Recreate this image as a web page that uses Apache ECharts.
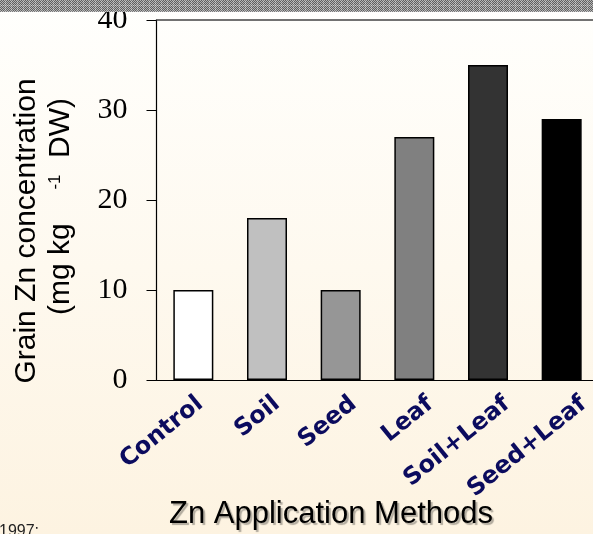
<!DOCTYPE html>
<html>
<head>
<meta charset="utf-8">
<script src="https://cdn.jsdelivr.net/npm/echarts@6/dist/echarts.min.js"></script>
<style>
  html, body { margin: 0; padding: 0; }
  #chart { width: 593px; height: 534px; }
</style>
</head>
<body>
<div id="chart"></div>
<script>
// Grain Zn concentration by application method
const methods = ['Control', 'Soil', 'Seed', 'Leaf', 'Soil+Leaf', 'Seed+Leaf'];
const znConcentration = [10, 18, 10, 27, 35, 29];
const barColors = ['#ffffff', '#c0c0c0', '#969696', '#808080', '#333333', '#000000'];
const yTicks = { min: 0, max: 40, step: 10 };

// small checkered tile for the banner strip
function makeTile() {
  const c = document.createElement('canvas');
  c.width = 6; c.height = 6;
  const g = c.getContext('2d');
  for (let i = 0; i < 6; i++) {
    for (let j = 0; j < 6; j++) {
      let col = (i + j) % 2 ? '#5e5e5e' : '#b4b4b4';
      if (i === 5 || j === 5) col = (i + j) % 2 ? '#7a7a7a' : '#cccccc';
      g.fillStyle = col;
      g.fillRect(i, j, 1, 1);
    }
  }
  return c;
}

const chart = echarts.init(document.getElementById('chart'));
const plotLeft = 156.5, plotTop = 20, plotBottom = 154, plotWidth = 442;

chart.setOption({
  backgroundColor: {
    type: 'linear', x: 0, y: 0, x2: 0, y2: 1,
    colorStops: [
      { offset: 0, color: '#fffffd' },
      { offset: 1, color: '#fdf3e1' }
    ]
  },
  animation: false,
  grid: [
    { left: plotLeft, top: plotTop, bottom: plotBottom, width: plotWidth, outerBoundsMode: 'none', containLabel: false },
    // category names sit on a slightly wider, shifted band
    { left: 162, top: plotTop, bottom: plotBottom, width: 460, outerBoundsMode: 'none', containLabel: false }
  ],
  xAxis: [
    {
      type: 'category', data: methods, gridIndex: 0,
      axisLine: { lineStyle: { color: '#000', width: 1.2 } },
      axisTick: { length: 9, lineStyle: { color: '#000', width: 1 } },
      axisLabel: { show: false }
    },
    {
      type: 'category', data: methods, gridIndex: 0, position: 'top',
      axisLine: { lineStyle: { color: '#444', width: 1.5 } },
      axisTick: { show: false }, axisLabel: { show: false }
    },
    {
      type: 'category', data: methods, gridIndex: 1,
      axisLine: { show: false }, axisTick: { show: false },
      axisLabel: {
        interval: 0, rotate: 39, margin: 21, hideOverlap: false,
        color: '#0b0b5e', fontFamily: 'DejaVu Sans', fontWeight: 'bold', fontSize: 24
      }
    }
  ],
  yAxis: [
    {
      type: 'value', gridIndex: 0,
      min: yTicks.min, max: yTicks.max, interval: yTicks.step,
      axisLine: { show: true, lineStyle: { color: '#000', width: 1.2 } },
      axisTick: { show: true, length: 10, lineStyle: { color: '#000', width: 1 } },
      splitLine: { show: false },
      axisLabel: { margin: 29, color: '#000', fontFamily: 'Liberation Serif', fontSize: 30 }
    },
    { type: 'value', gridIndex: 1, show: false, min: yTicks.min, max: yTicks.max }
  ],
  series: [{
    type: 'bar',
    xAxisIndex: 0, yAxisIndex: 0,
    barWidth: 40,
    data: znConcentration.map((v, i) => ({
      value: v,
      itemStyle: { color: barColors[i], borderColor: '#000', borderWidth: 1.5 }
    }))
  }],
  graphic: [
    {
      type: 'rect', left: 0, top: 0, z: 10,
      shape: { width: 593, height: 12 },
      style: { fill: { image: makeTile(), repeat: 'repeat' } }
    },
    {
      type: 'text', x: 27, y: 231, rotation: Math.PI / 2,
      style: {
        text: 'Grain Zn concentration', x: 0, y: 0, align: 'center', verticalAlign: 'middle',
        fontFamily: 'Liberation Sans', fontSize: 30, fill: '#000'
      }
    },
    {
      type: 'text', x: 61, y: 315, rotation: Math.PI / 2,
      style: {
        text: '(mg kg', x: 0, y: 0, align: 'left', verticalAlign: 'middle',
        fontFamily: 'Liberation Sans', fontSize: 30, fill: '#000'
      }
    },
    {
      type: 'text', x: 55, y: 182, rotation: Math.PI / 2,
      style: {
        text: '-1', x: 0, y: 0, align: 'center', verticalAlign: 'middle',
        fontFamily: 'Liberation Sans', fontSize: 17, fill: '#000'
      }
    },
    {
      type: 'text', x: 61, y: 158, rotation: Math.PI / 2,
      style: {
        text: 'DW)', x: 0, y: 0, align: 'left', verticalAlign: 'middle',
        fontFamily: 'Liberation Sans', fontSize: 30, fill: '#000'
      }
    },
    {
      type: 'text', x: 331, y: 514,
      style: {
        text: 'Zn Application Methods', x: 0, y: 0, align: 'center', verticalAlign: 'middle',
        fontFamily: 'Liberation Sans', fontSize: 31, fill: '#000',
        textShadowColor: 'rgba(0,0,0,0.3)', textShadowOffsetX: 2, textShadowOffsetY: 2, textShadowBlur: 1
      }
    },
    {
      type: 'text', x: -1, y: 524,
      style: {
        text: '1997;', x: 0, y: 0, align: 'left', verticalAlign: 'top',
        fontFamily: 'Liberation Sans', fontSize: 16, fill: '#222'
      }
    }
  ]
});
</script>
</body>
</html>
